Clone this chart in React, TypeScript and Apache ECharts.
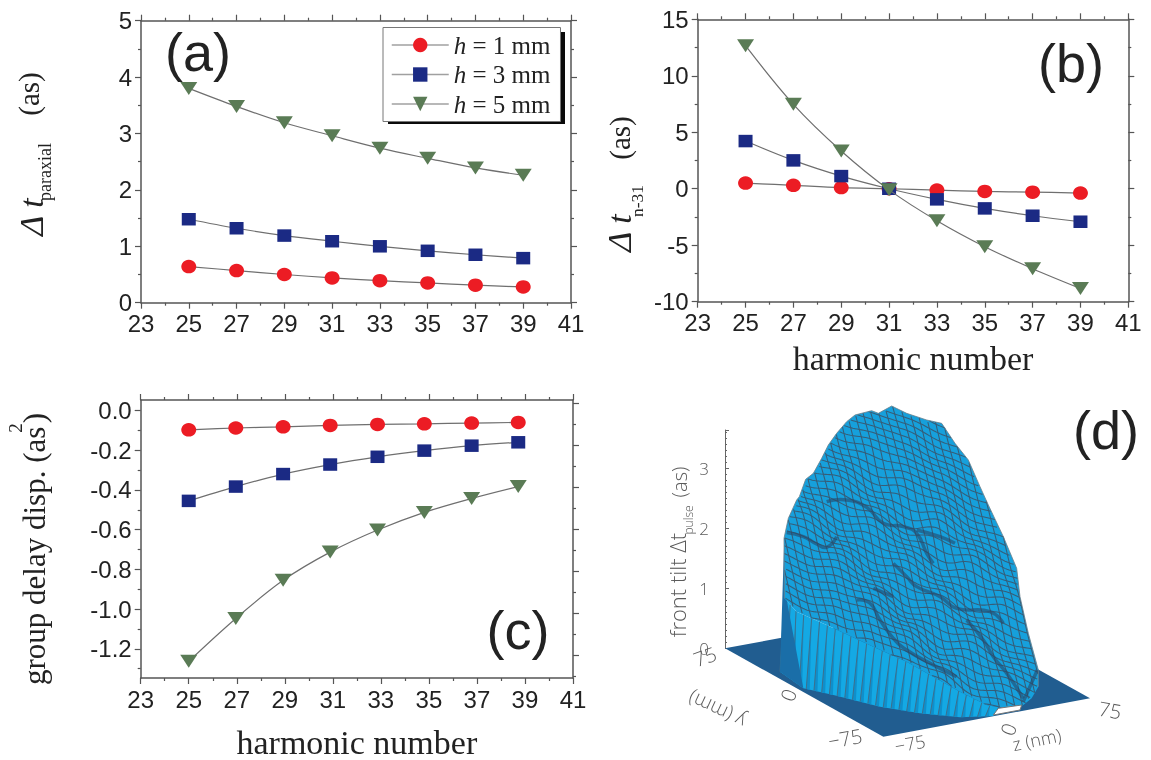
import React, { useEffect, useRef } from "react";
import * as echarts from "echarts";

// ---------- panels (a), (b), (c): values ----------
const harmonics = [25, 27, 29, 31, 33, 35, 37, 39];
const harmonicsC = [25, 26.96, 28.93, 30.89, 32.86, 34.81, 36.78, 38.72];
const legendNames = ["h = 1 mm", "h = 3 mm", "h = 5 mm"];

const paraxial1 = [0.64, 0.57, 0.5, 0.44, 0.39, 0.35, 0.31, 0.28];
const paraxial3 = [1.48, 1.32, 1.19, 1.09, 1.0, 0.92, 0.85, 0.79];
const paraxial5 = [3.8, 3.48, 3.19, 2.96, 2.74, 2.56, 2.39, 2.26];

const delay1 = [0.5, 0.3, 0.1, 0, -0.12, -0.24, -0.3, -0.38];
const delay3 = [4.22, 2.51, 1.12, 0, -0.94, -1.74, -2.39, -2.92];
const delay5 = [12.66, 7.47, 3.34, -0.1, -2.83, -5.13, -7.08, -8.83];

const gdd1 = [-0.097, -0.088, -0.082, -0.075, -0.07, -0.067, -0.063, -0.06];
const gdd3 = [-0.455, -0.383, -0.32, -0.272, -0.233, -0.202, -0.177, -0.16];
const gdd5 = [-1.263, -1.047, -0.855, -0.713, -0.602, -0.513, -0.443, -0.383];

const gddLabelTicks = [0, -0.2, -0.4, -0.6, -0.8, -1.0, -1.2];
const gddMinorTicks = [-0.1, -0.3, -0.5, -0.7, -0.9, -1.1, -1.3];

// ---------- panel (d): outlines, in crop units (3 per pixel) ----------
type P = number[];
const floorOutline: P[] = [[255, 775], [875, 660], [1350, 925], [730, 1040]];
const surfaceOutline: P[] = [
  [433, 625], [432, 445], [445, 385], [470, 330], [478, 320], [497, 268], [520, 250], [545, 205],
  [565, 165], [590, 130], [620, 95], [645, 75], [695, 62], [715, 70], [755, 48], [800, 70],
  [860, 90], [905, 100], [945, 160], [985, 210], [1020, 290], [1045, 345], [1090, 440], [1130, 535],
  [1140, 620], [1165, 730], [1195, 840], [1195, 890], [1175, 925], [1150, 945], [1140, 950],
  [1075, 952], [1040, 945], [960, 905], [880, 860], [800, 815], [700, 770], [560, 705], [470, 665],
];
const wallTop: P[] = [[433, 625], [470, 665], [560, 705], [700, 770], [800, 815], [880, 860], [960, 905], [1040, 945], [1075, 952]];
const wallBase: P[] = [[420, 845], [490, 895], [580, 915], [720, 950], [840, 970], [960, 982], [1060, 978]];
const leftBand: P[] = [[420, 845], [430, 530], [433, 445], [445, 440], [442, 640], [490, 895]];
const holeOutline: P[] = [[1060, 975], [1075, 955], [1145, 945], [1140, 960]];
const creases: P[][] = [
  [[440, 428], [490, 440], [530, 462], [560, 472], [590, 440]],
  [[560, 335], [620, 330], [680, 352], [730, 400], [790, 410], [830, 430], [860, 490], [880, 520]],
  [[830, 420], [900, 440], [945, 460]],
  [[650, 630], [690, 640], [720, 690], [760, 745], [800, 780], [880, 825], [950, 860]],
  [[760, 520], [800, 560], [830, 590], [900, 620], [950, 655], [1050, 665], [1090, 700]],
  [[980, 690], [1030, 750], [1060, 800], [1100, 850], [1150, 925]],
  [[1150, 935], [1172, 885], [1192, 840]],
  [[700, 595], [760, 620]],
];
// vertical waviness of the mesh, estimated per 100 x 120 crop units
const rippleTable: number[][] = [
  [0, 0, 0, 0, 0, 0, 0, 0, 0],
  [0, 0, 9, -9, -12, 6, 0, 0, 0],
  [0, 12, -12, 15, -15, -9, 9, 0, 0],
  [0, -15, 18, -12, 21, -18, 12, 0, 0],
  [0, 9, -18, 15, -9, 21, -15, 9, 0],
  [0, 15, -9, -21, 18, -12, 21, -12, 0],
  [0, 0, 12, -15, -21, 18, -15, 15, 0],
  [0, 0, 0, 9, -15, -21, 15, -12, 0],
  [0, 0, 0, 0, 0, 0, 0, 0, 0],
];

const ss = (t: number) => t * t * (3 - 2 * t);
function ripple(x: number, y: number) {
  const fx = Math.min(7.999, Math.max(0, (x - 400) / 100));
  const fy = Math.min(7.999, Math.max(0, (y - 40) / 120));
  const i = Math.floor(fx), j = Math.floor(fy);
  const u = ss(fx - i), v = ss(fy - j);
  const r = rippleTable;
  return (r[j][i] * (1 - u) + r[j][i + 1] * u) * (1 - v) + (r[j + 1][i] * (1 - u) + r[j + 1][i + 1] * u) * v;
}
function inside(pt: P, poly: P[]) {
  let c = false;
  for (let i = 0, j = poly.length - 1; i < poly.length; j = i++) {
    const a = poly[i], b = poly[j];
    if (a[1] > pt[1] !== b[1] > pt[1] && pt[0] < ((b[0] - a[0]) * (pt[1] - a[1])) / (b[1] - a[1]) + a[0]) c = !c;
  }
  return c;
}
function along(poly: P[], u: number): P {
  const seg: number[] = [];
  let total = 0;
  for (let i = 1; i < poly.length; i++) {
    const d = Math.hypot(poly[i][0] - poly[i - 1][0], poly[i][1] - poly[i - 1][1]);
    seg.push(d);
    total += d;
  }
  let left = u * total;
  for (let i = 0; i < seg.length; i++) {
    if (left <= seg[i] || i === seg.length - 1) {
      const t = left / seg[i];
      return [poly[i][0] + (poly[i + 1][0] - poly[i][0]) * t, poly[i][1] + (poly[i + 1][1] - poly[i][1]) * t];
    }
    left -= seg[i];
  }
  return poly[poly.length - 1];
}
function meshLines(): P[][] {
  const origin = [800, 500], A = [26, 10], B = [-6, -24];
  const out: P[][] = [];
  const trace = (fn: (q: number) => P) => {
    let cur: P[] = [];
    for (let q = -45; q <= 45; q += 0.25) {
      const p = fn(q);
      const pt = [p[0], p[1] + ripple(p[0], p[1])];
      if (inside(pt, surfaceOutline)) cur.push(pt);
      else {
        if (cur.length > 1) out.push(cur);
        cur = [];
      }
    }
    if (cur.length > 1) out.push(cur);
  };
  for (let k = -45; k <= 45; k++) {
    trace((q) => [origin[0] + q * A[0] + k * B[0], origin[1] + q * A[1] + k * B[1]]);
    trace((q) => [origin[0] + k * A[0] + q * B[0], origin[1] + k * A[1] + q * B[1]]);
  }
  return out;
}

const SANS = '"Liberation Sans", Arial, sans-serif';
const SERIF = '"Liberation Serif", "Times New Roman", serif';
const THIN = '"Open Sans", sans-serif';
const INK = "#222";
const AXIS = "#555";
const RED = "#ec1c24";
const NAVY = "#1b2a84";
const GREEN = "#5a7b55";
const TRI = "path://M0,0 L10,0 L5,9 Z";

const PANELS = [
  { left: 141, top: 20.7, width: 430, height: 282 },
  { left: 697.7, top: 19.3, width: 430.6, height: 282.4 },
  { left: 140.7, top: 400, width: 432.3, height: 280 },
];

function xPair(grid: number, name?: string, nameSize?: number, nameGap?: number) {
  const base = {
    type: "value", gridIndex: grid, min: 23, max: 41, interval: 2,
    splitLine: { show: false },
    axisLine: { onZero: false, lineStyle: { color: AXIS, width: 1.5 } },
    axisTick: { length: 6, lineStyle: { color: AXIS, width: 1.2 } },
    minorTick: { show: true, splitNumber: 2, length: 3, lineStyle: { color: AXIS, width: 1.2 } },
  };
  return [
    {
      ...base, position: "bottom", name, nameLocation: "middle", nameGap,
      nameTextStyle: { fontFamily: SERIF, fontSize: nameSize, color: INK },
      axisLabel: { fontFamily: SANS, fontSize: 24, color: INK, margin: 9 },
    },
    { ...base, position: "top", axisLabel: { show: false } },
  ];
}
function yPair(grid: number, min: number, max: number, interval: number) {
  const base = {
    type: "value", gridIndex: grid, min, max, interval,
    splitLine: { show: false },
    axisLine: { onZero: false, lineStyle: { color: AXIS, width: 1.5 } },
    axisTick: { length: 6, lineStyle: { color: AXIS, width: 1.2 } },
    minorTick: { show: true, splitNumber: 2, length: 3, lineStyle: { color: AXIS, width: 1.2 } },
  };
  return [
    { ...base, position: "left", axisLabel: { fontFamily: SANS, fontSize: 24, color: INK, margin: 9 } },
    { ...base, position: "right", axisLabel: { show: false } },
  ];
}
function customY(min: number, max: number, position: string, values: number[], length: number, labels: boolean, line: boolean) {
  return {
    type: "value", gridIndex: 2, min, max, position,
    splitLine: { show: false },
    axisLine: { show: line, onZero: false, lineStyle: { color: AXIS, width: 1.5 } },
    axisTick: { show: true, customValues: values, length, lineStyle: { color: AXIS, width: 1.2 } },
    axisLabel: labels
      ? { show: true, customValues: values, fontFamily: SANS, fontSize: 24, color: INK, margin: 9, formatter: (v: number) => v.toFixed(1) }
      : { show: false },
  };
}
function trio(xs: number[], a: number[], b: number[], c: number[], xi: number, yi: number) {
  const common = {
    type: "line", xAxisIndex: xi, yAxisIndex: yi, smooth: 0.35,
    lineStyle: { color: "#6f6f6f", width: 1.2 },
    z: 3,
  };
  const zip = (v: number[]) => v.map((y, i) => [xs[i], y]);
  return [
    { ...common, name: legendNames[0], data: zip(a), symbol: "circle", symbolSize: [15, 13.5], itemStyle: { color: RED }, z: 3 },
    { ...common, name: legendNames[1], data: zip(b), symbol: "rect", symbolSize: [14, 12.5], itemStyle: { color: NAVY }, z: 4 },
    { ...common, name: legendNames[2], data: zip(c), symbol: TRI, symbolSize: [17, 13], itemStyle: { color: GREEN }, z: 5 },
  ];
}

function canvasSeries(z: number, build: () => any[]) {
  const children = build();
  return {
    type: "custom", coordinateSystem: "cartesian2d", xAxisIndex: 7, yAxisIndex: 9,
    silent: true, clip: false, z, data: [[0, 0]],
    renderItem: (_p: any, api: any) => ({
      type: "group",
      children: children.map((c) => ({
        type: c.kind,
        shape: { points: c.pts.map((q: P) => api.coord(q)), smooth: c.smooth || 0 },
        style: c.style,
      })),
    }),
  };
}

function panelD() {
  const wall = () => {
    const out: any[] = [{ kind: "polygon", pts: [...wallTop, ...[...wallBase].reverse()], style: { fill: "#14a9e4" } }];
    const n = 28;
    for (let i = 0; i < n; i++) {
      const t0 = along(wallTop, i / n), b0 = along(wallBase, i / n), b1 = along(wallBase, (i + 0.45) / n);
      out.push({ kind: "polygon", pts: [t0, b0, b1], style: { fill: "#0f8fcb" } });
      out.push({ kind: "polyline", pts: [t0, b0], style: { stroke: "#3f6f8c", fill: "none", lineWidth: 1 } });
    }
    out.push({ kind: "polygon", pts: leftBand, style: { fill: "#1a6ea8" } });
    return out;
  };
  return [
    canvasSeries(1, () => [
      { kind: "polygon", pts: floorOutline, style: { fill: "#215d90" } },
    ]),
    canvasSeries(2, wall),
    canvasSeries(3, () => [
      { kind: "polygon", pts: surfaceOutline, style: { fill: "#16a0dc" } },
      ...meshLines().map((pts) => ({ kind: "polyline", pts, style: { stroke: "#365d78", fill: "none", lineWidth: 1.05 } })),
      ...creases.map((pts) => ({ kind: "polyline", pts, smooth: 0.5, style: { stroke: "#24476b", fill: "none", lineWidth: 3.4, opacity: 0.6, lineJoin: "round" } })),
      { kind: "polyline", pts: surfaceOutline.slice(0, 28), style: { stroke: "#6b7f8a", fill: "none", lineWidth: 0.8 } },
      { kind: "polygon", pts: holeOutline, style: { fill: "#fff", stroke: "#777", lineWidth: 1 } },
    ]),
  ];
}

const cx = (z: number) => 640 + z / 3;
const cy = (z: number) => 390 + z / 3;
const DEG = Math.PI / 180;

function label(text: string, x: number, y: number, font: string, size: number, rot = 0, extra: any = {}, align = "center") {
  return {
    type: "text", x, y, rotation: rot * DEG, z: 20,
    style: { text, fontFamily: font, fontSize: size, fill: INK, align, verticalAlign: "middle", ...extra },
  };
}
const thin = { fill: "#5a5a5a", fontWeight: 300 };

const graphics = [
  { type: "rect", shape: { x: 388, y: 32, width: 177, height: 92 }, style: { fill: "#0a0a0a" }, z: 1 },
  label("(a)", 198, 52, SANS, 54),
  label("(b)", 1071, 63, SANS, 54),
  label("(c)", 518, 630, SANS, 54),
  label("(d)", 1106, 430, SANS, 54),

  label("Δ t", 31, 217, SERIF, 34, 90, { fontStyle: "italic" }),
  label("paraxial", 45, 172, SERIF, 18, 90),
  label("(as)", 29, 94, SERIF, 29, 90),

  label("Δ t", 619, 233, SERIF, 34, 90, { fontStyle: "italic" }),
  label("n-31", 637, 201, SERIF, 17.5, 90),
  label("(as)", 620, 138, SERIF, 29, 90),

  label("group delay disp. (as", 34, 685, SERIF, 31, 90, {}, "left"),
  label("2", 15, 428, SERIF, 19, 90),
  label(")", 34, 418, SERIF, 31, 90),

  label("front tilt Δt", 677, 585, THIN, 22, 90, thin),
  label("pulse", 688, 520, THIN, 12, 90, thin),
  label("(as)", 679, 482, THIN, 20, 90, thin),
  label("75", cx(195), cy(800), THIN, 20, 20, thin),
  label("0", cx(445), cy(915), THIN, 20, 70, thin),
  label("y (mm)", cx(230), cy(960), THIN, 20, 155, thin),
  label("−75", cx(615), cy(1045), THIN, 20, 10, thin),
  label("−75", cx(810), cy(1060), THIN, 18, 10, thin),
  label("0", cx(1105), cy(1018), THIN, 20, 70, thin),
  label("75", cx(1410), cy(960), THIN, 20, -10, thin),
  label("z (nm)", cx(1190), cy(1048), THIN, 18, 12, thin),
];

export default function App() {
  const ref = useRef<HTMLDivElement>(null);
  useEffect(() => {
    document.body.style.margin = "0";
    const chart = echarts.init(ref.current!, undefined, { renderer: "svg" });
    chart.setOption({
      animation: false,
      backgroundColor: "#fff",
      grid: [
        ...PANELS,
        { left: 725, top: 430, width: 100, height: 218.3 },
        { left: 640, top: 390, width: 511, height: 370 },
      ],
      legend: {
        data: legendNames,
        orient: "vertical",
        left: 383,
        top: 27.5,
        padding: [5, 10, 5, 8],
        itemWidth: 57,
        itemHeight: 18,
        itemGap: 4.5,
        backgroundColor: "#fff",
        borderColor: "#777",
        borderWidth: 1,
        z: 6,
        textStyle: {
          fontFamily: SERIF, fontSize: 25, color: INK,
          rich: { i: { fontFamily: SERIF, fontSize: 25, fontStyle: "italic", color: INK } },
        },
        formatter: (n: string) => `{i|h}${n.slice(1)}`,
        lineStyle: { color: "#a0a0a0", width: 1.5 },
      },
      xAxis: [
        ...xPair(0),
        ...xPair(1, "harmonic number", 34, 40),
        ...xPair(2, "harmonic number", 34, 47),
        { type: "value", gridIndex: 3, show: false, min: 0, max: 1 },
        { type: "value", gridIndex: 4, show: false, min: 0, max: 1533 },
      ],
      yAxis: [
        ...yPair(0, 0, 5, 1),
        ...yPair(1, -10, 15, 5),
        customY(-1.347, 0.053, "left", gddLabelTicks, 6, true, true),
        customY(-1.306, 0.017, "right", gddLabelTicks, 6, false, true),
        customY(-1.347, 0.053, "left", gddMinorTicks, 3, false, false),
        customY(-1.306, 0.017, "right", gddMinorTicks, 3, false, false),
        {
          type: "value", gridIndex: 3, min: 0, max: 3.64, interval: 1, position: "left",
          splitLine: { show: false },
          axisLine: { lineStyle: { color: "#666", width: 1 } },
          axisTick: { inside: true, length: 4, lineStyle: { color: "#666" } },
          minorTick: { show: true, splitNumber: 10, length: 2, lineStyle: { color: "#666" } },
          axisLabel: { fontFamily: THIN, fontSize: 17, color: "#5a5a5a", margin: 16, fontWeight: 300, showMaxLabel: false },
        },
        { type: "value", gridIndex: 4, show: false, min: 0, max: 1110, inverse: true },
      ],
      graphic: graphics,
      series: [
        ...trio(harmonics, paraxial1, paraxial3, paraxial5, 0, 0),
        ...trio(harmonics, delay1, delay3, delay5, 2, 2),
        ...trio(harmonicsC, gdd1, gdd3, gdd5, 4, 4),
        ...panelD(),
      ],
    } as any);
    return () => chart.dispose();
  }, []);
  return (
    <div
      ref={ref}
      style={{ position: "absolute", left: 0, top: 0, width: 1151, height: 760, filter: "blur(0.45px)" }}
    />
  );
}
